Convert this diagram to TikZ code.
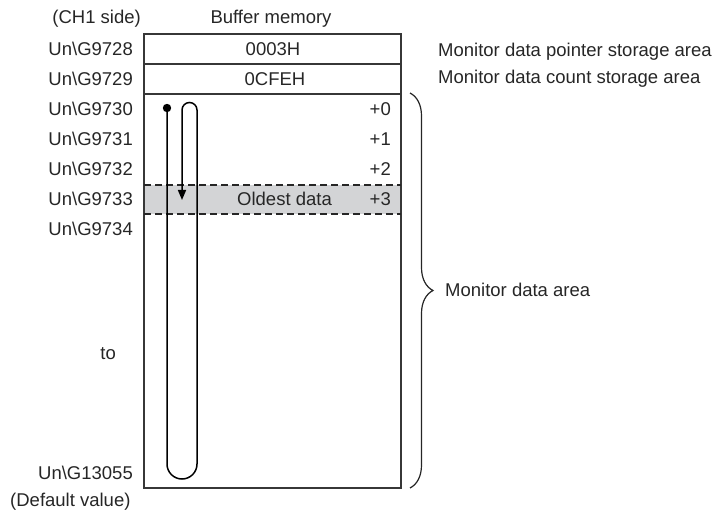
\documentclass[tikz,border=0pt]{standalone}
\usepackage{fontspec}
\setmainfont{Liberation Sans}
\usetikzlibrary{arrows.meta,decorations.pathreplacing}
\definecolor{bandgray}{RGB}{211,212,214}
\definecolor{boxline}{RGB}{55,55,55}
\begin{document}
\begin{tikzpicture}[x=1pt,y=1pt,
  txt/.style={font=\fontsize{18.5}{21}\selectfont, inner sep=0pt, text height=13pt, text depth=0pt, text=black!85},
  boxln/.style={draw=boxline, line width=1.2pt},
  dashln/.style={draw=black!85, line width=1.2pt, dash pattern=on 7pt off 4pt},
  flow/.style={draw=black, line width=1.5pt}]
\useasboundingbox (0,0) rectangle (715,-521);
% box geometry
\coordinate (tl) at (144,-34);
\coordinate (br) at (401,-488);
\fill[bandgray] (144,-185) rectangle (401,-214);
\draw[boxln] (tl) rectangle (br);
\draw[boxln] (144,-64) -- (401,-64);
\draw[boxln] (144,-94) -- (401,-94);
\draw[dashln] (144,-185) -- (401,-185);
\draw[dashln] (144,-214) -- (401,-214);
% headers
\node[txt, anchor=east] (ch1) at (141,-17) {(CH1 side)};
\node[txt] (bm) at (271,-17) {Buffer memory};
% cell values
\node[txt] (v1) at (273,-49) {0003H};
\node[txt] (v2) at (275,-79) {0CFEH};
% left addresses
\node[txt, anchor=east] (a28) at (133,-49) {Un\textbackslash G9728};
\node[txt, anchor=east] (a29) at (133,-79) {Un\textbackslash G9729};
\node[txt, anchor=east] (a30) at (133,-109) {Un\textbackslash G9730};
\node[txt, anchor=east] (a31) at (133,-139) {Un\textbackslash G9731};
\node[txt, anchor=east] (a32) at (133,-169) {Un\textbackslash G9732};
\node[txt, anchor=east] (a33) at (133,-199) {Un\textbackslash G9733};
\node[txt, anchor=east] (a34) at (133,-229) {Un\textbackslash G9734};
\node[txt, anchor=east] (ato) at (116,-353) {to};
\node[txt, anchor=east] (a55) at (133,-473) {Un\textbackslash G13055};
\node[txt, anchor=west] (dv) at (10,-500) {(Default value)};
% offsets
\node[txt, anchor=east] (o0) at (391,-109) {+0};
\node[txt, anchor=east] (o1) at (391,-139) {+1};
\node[txt, anchor=east] (o2) at (391,-169) {+2};
\node[txt, anchor=east] (o3) at (391,-199) {+3};
\node[txt, anchor=west] (old) at (237,-199) {Oldest data};
% right labels
\node[txt, anchor=west] (ptr) at (438,-50) {Monitor data pointer storage area};
\node[txt, anchor=west] (cnt) at (438,-77) {Monitor data count storage area};
\node[txt, anchor=west] (mda) at (445,-290) {Monitor data area};
% brace
\coordinate (bt) at (410,-93);
\coordinate (bb) at (410,-488);
\draw[draw=black!85, line width=1.2pt, decorate, decoration={brace, amplitude=23pt}] (bt) -- (bb);
% ring buffer path
\coordinate (start) at (167,-108);
\coordinate (tip) at (182,-200);
\fill[black] (start) circle[radius=4.2];
\draw[flow, -{Triangle[width=8pt,length=10pt]}] (start) -- (167,-464)
  arc[start angle=180, end angle=360, radius=15] -- (197,-110)
  arc[start angle=0, end angle=180, radius=7.5] -- (tip);
\end{tikzpicture}
\end{document}
